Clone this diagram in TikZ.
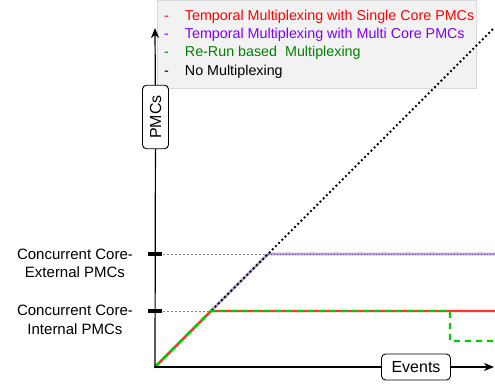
\documentclass[tikz,border=0pt]{standalone}
\usepackage{fontspec}
\setmainfont{Liberation Sans}
\usetikzlibrary{arrows.meta}
\definecolor{legred}{HTML}{FF0000}
\definecolor{legpurple}{HTML}{7F00FF}
\definecolor{leggreen}{HTML}{007F00}
\definecolor{linered}{HTML}{FF3333}
\definecolor{linegreen}{HTML}{00CC00}
\definecolor{linepurple}{HTML}{B7A2D8}
\definecolor{dotpurple}{HTML}{6A4A9C}
\tikzset{
  axisbox/.style={draw,fill=white,rounded corners=4pt,line width=0.9pt,inner xsep=10pt,inner ysep=5pt,minimum height=26pt,font=\fontsize{16}{18}\selectfont},
  axisline/.style={line width=1.2pt},
  tickmark/.style={line width=4pt},
  refline/.style={gray,line width=0.8pt,dash pattern=on 2pt off 2pt},
  legtext/.style={anchor=west,inner sep=0pt,font=\fontsize{14.3}{16}\selectfont},
  sidelabel/.style={align=center,inner sep=0pt,font=\fontsize{15}{18.5}\selectfont},
}
\begin{document}
\begin{tikzpicture}[x=1pt,y=-1pt,>={Stealth[length=10pt,width=8pt,inset=3pt]},line join=bevel,]
\useasboundingbox (0,0) rectangle (495,385);
%%
  \coordinate (origin) at (155,367);
  \coordinate (ytop) at (155,28);
  \coordinate (xend) at (494,367);
  \coordinate (tick_ext) at (155,254);
  \coordinate (tick_int) at (155,311);
  \coordinate (knee_ext) at (268,254);
  \coordinate (knee_int) at (211,311);
  \coordinate (purple_end) at (495,254);
  \coordinate (red_end) at (495,311);
  \coordinate (drop_top) at (450,311);
  \coordinate (drop_bot) at (450,341);
  \coordinate (green_end) at (495,341);
  \coordinate (diag_end) at (493,29);

  % legend
  \node (legend) at (316.5,44) [draw=black!15,fill=black!5,minimum width=319pt,minimum height=88pt,inner sep=0pt] {};
  \node (leg_single) at (164,17) [legtext,text=legred] {-\hspace{16pt}Temporal Multiplexing with Single Core PMCs};
  \node (leg_multi) at (164,35) [legtext,text=legpurple] {-\hspace{16pt}Temporal Multiplexing with Multi Core PMCs};
  \node (leg_rerun) at (164,53) [legtext,text=leggreen] {-\hspace{16pt}Re-Run based\ \ Multiplexing};
  \node (leg_none) at (164,71.5) [legtext,text=black] {-\hspace{16pt}No Multiplexing};

  % reference levels
  \draw [refline] (tick_ext) -- (knee_ext);
  \draw [refline] (tick_int) -- (knee_int);
  \node (lab_ext) at (75,263.5) [sidelabel] {Concurrent Core-\\External PMCs};
  \node (lab_int) at (75,320) [sidelabel] {Concurrent Core-\\Internal PMCs};

  % curves
  \draw [linepurple,line width=2.6pt] (origin) -- (knee_ext) -- (purple_end);
  \draw [dotpurple,line width=0.9pt,dash pattern=on 1.2pt off 1.8pt] (knee_ext) -- (purple_end);
  \draw [black,line width=2.6pt,line cap=round,dash pattern=on 0pt off 4.5pt] (origin) -- (diag_end);
  \draw [linered,line width=2.4pt] (origin) -- (knee_int) -- (red_end);
  \draw [linegreen,line width=2.2pt,dash pattern=on 6pt off 5pt] (origin) -- (knee_int) -- (drop_top) -- (drop_bot) -- (green_end);

  % axes
  \node (pmcs) at (155.5,117) [axisbox,rotate=90] {PMCs};
  \node (events) at (416,367) [axisbox] {Events};
  \draw [axisline] (origin) -- (pmcs);
  \draw [axisline,->] (pmcs) -- (ytop);
  \draw [axisline] (origin) -- (events);
  \draw [axisline,->] (events) -- (xend);
  \draw [tickmark] ([xshift=-7pt]tick_ext) -- ([xshift=7pt]tick_ext);
  \draw [tickmark] ([xshift=-7pt]tick_int) -- ([xshift=7pt]tick_int);

\end{tikzpicture}
\end{document}
